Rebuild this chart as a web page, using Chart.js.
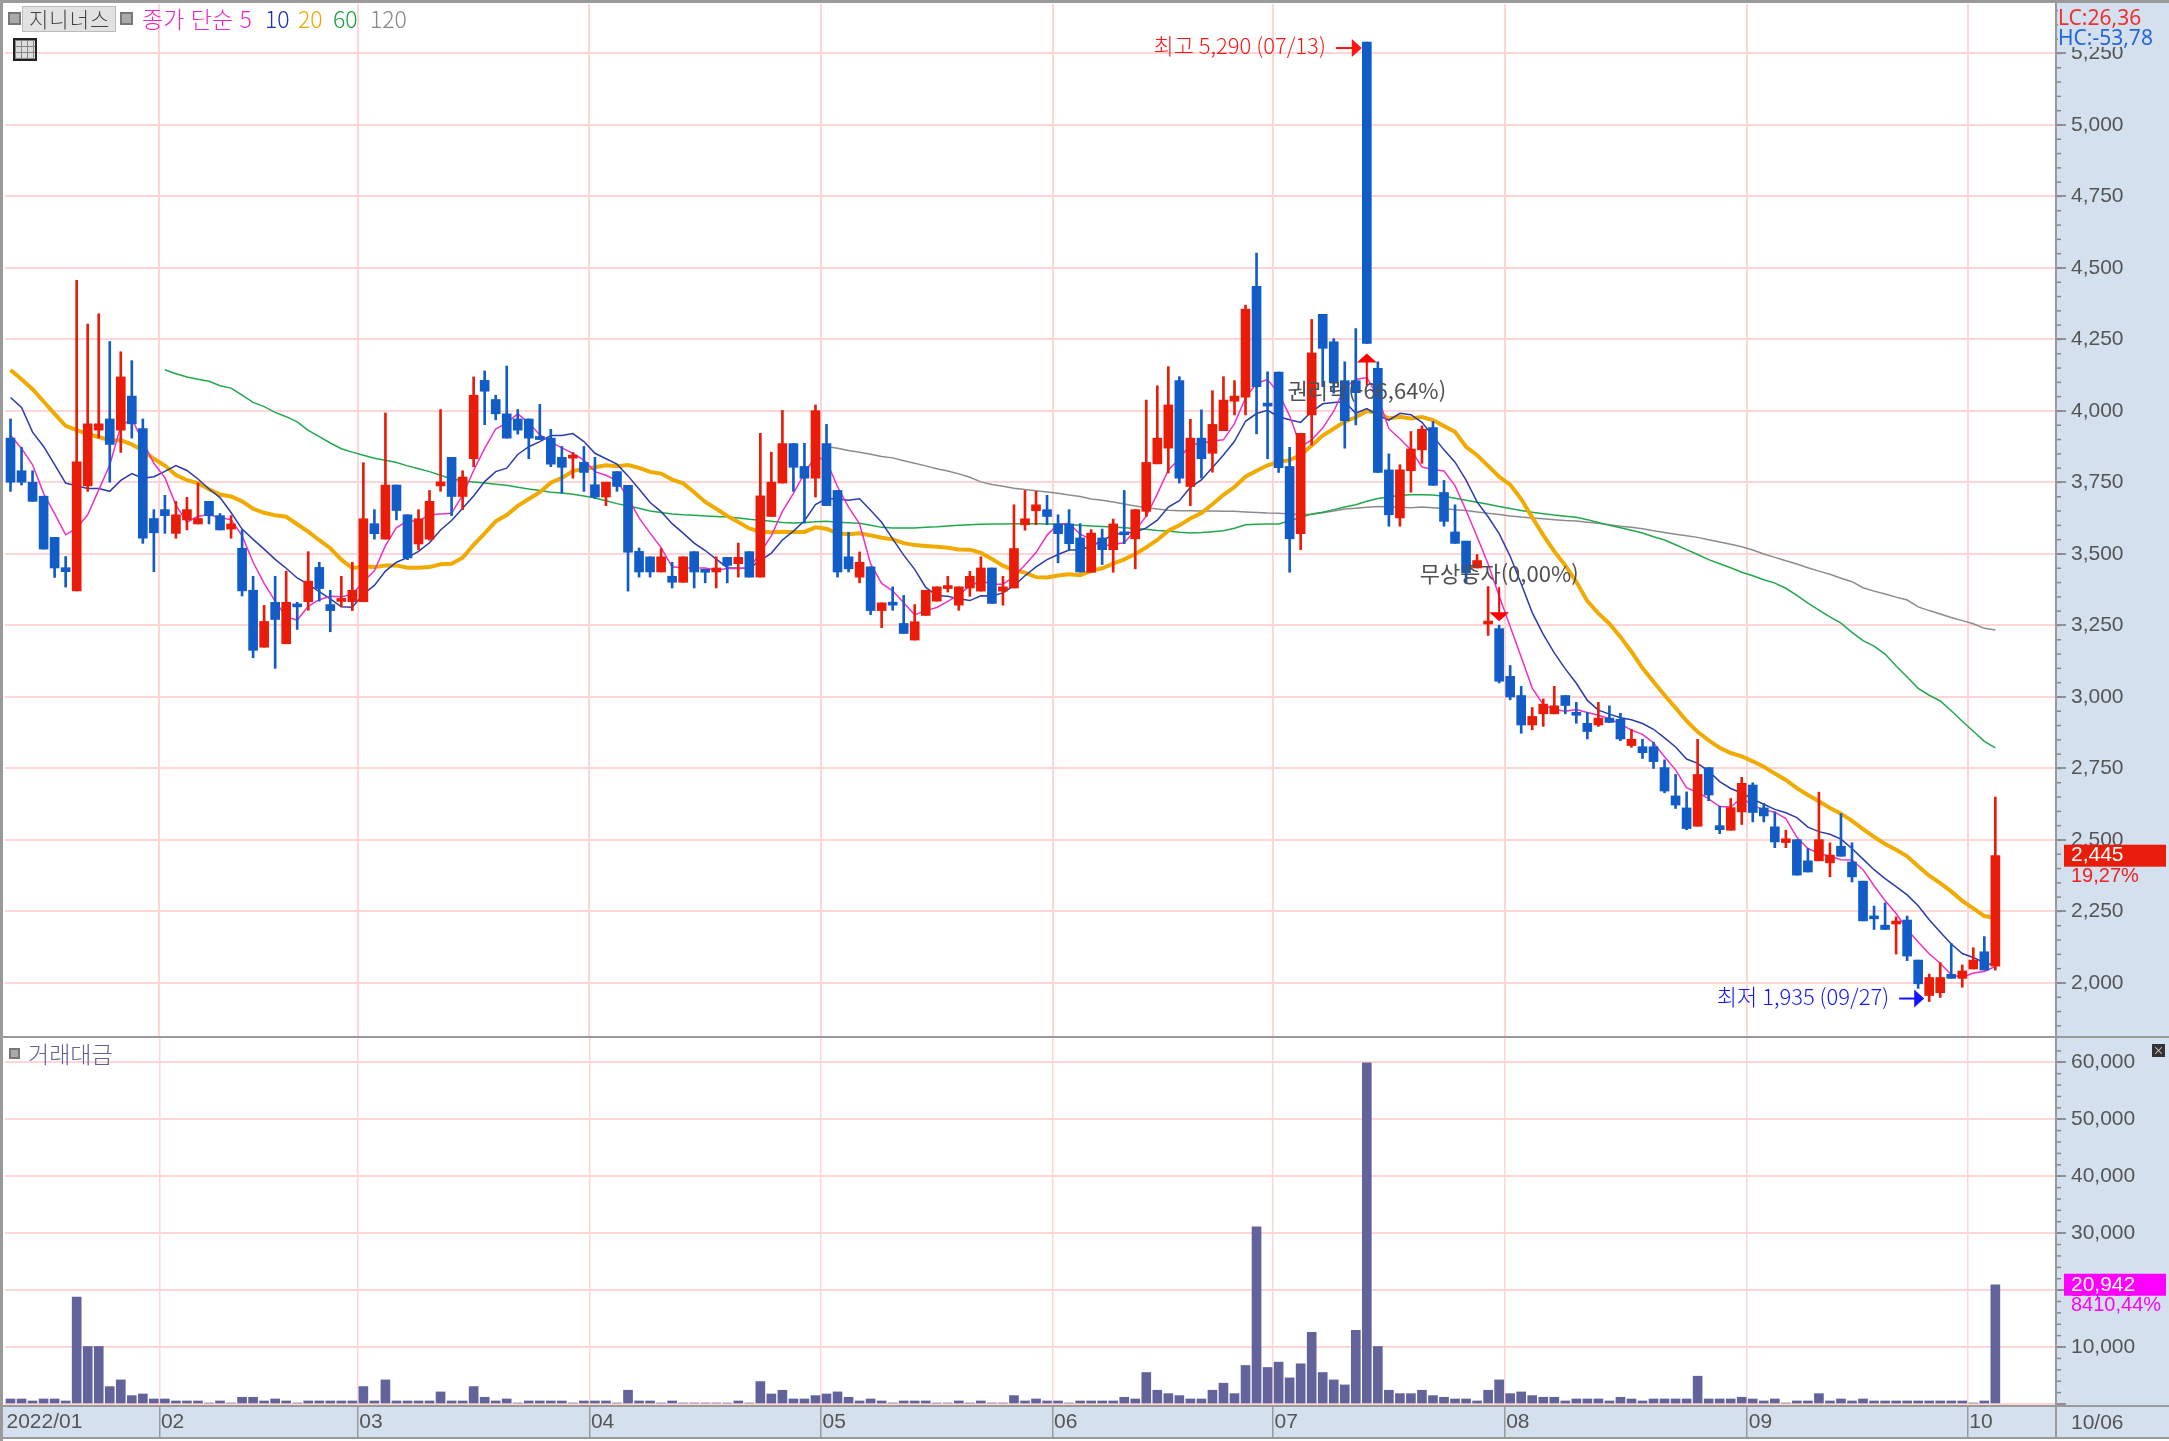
<!DOCTYPE html>
<html lang="ko">
<head>
<meta charset="utf-8">
<title>지니너스</title>
<script src="https://cdn.jsdelivr.net/npm/chart.js@4/dist/chart.umd.min.js"></script>
<style>
    html, body { margin: 0; padding: 0; background: #fff; }
    #page { position: relative; width: 2169px; height: 1441px; overflow: hidden; background: #fff; font-family: "Noto Sans CJK KR", sans-serif; }
    #page div, #page span { position: absolute; white-space: nowrap; }
    canvas { position: absolute; left: 0; }
    #priceChart { top: 0; }
    #valueChart { top: 1037px; }
    #axisCol { left: 2056px; top: 0; width: 113px; height: 1438px; background: #d5e0ef; }
    #axisRow { left: 0; top: 1405px; width: 2169px; height: 33px; background: #d5e0ef; }
    .line { background: #9a9a9a; }
    .dot { width: 9px; height: 9px; background: #aaa; border: 2px solid #777; }
    .head { top: 4px; font-size: 23px; line-height: 28px; font-weight: 300; }
    #lcBox { left: 2058px; top: 4px; width: 110px; height: 43px; background: #d5e0ef; }
    .side { left: 2058px; font-size: 21px; line-height: 24px; font-family: "Noto Sans", sans-serif; }
    #tableIcon {
        left: 13px; top: 38px; width: 20px; height: 19px; border: 2px solid #222;
        background:
            repeating-linear-gradient(90deg, #888 0 1px, transparent 1px 6px),
            repeating-linear-gradient(0deg, #888 0 1px, #ddd 1px 6px);
    }
</style>
</head>
<body>
<div id="page">
    <div id="axisCol"></div>
    <div id="axisRow"></div>
    <canvas id="priceChart" width="2169" height="1037"></canvas>
    <canvas id="valueChart" width="2169" height="401"></canvas>

    <div class="line" style="left:0;top:0;width:2169px;height:3px"></div>
    <div class="line" style="left:0;top:0;width:3px;height:1441px"></div>
    <div class="line" style="left:0;top:1036px;width:2169px;height:2px"></div>
    <div class="line" style="left:2055px;top:0;width:2px;height:1438px"></div>
    <div class="line" style="left:0;top:1405px;width:2169px;height:2px"></div>
    <div class="line" style="left:0;top:1437px;width:2169px;height:2px"></div>

    <div class="dot" style="left:8px;top:12px"></div>
    <div style="left:22px;top:6px;width:92px;height:24px;background:#e2e2e2;border:1px solid #bbb"></div>
    <div class="head" style="left:29px;color:#444;font-size:21px;letter-spacing:1px">지니너스</div>
    <div class="dot" style="left:120px;top:12px"></div>
    <div class="head" style="left:142px;color:#ee22cc">종가 단순 5</div>
    <div class="head" style="left:265px;color:#1c30b8">10</div>
    <div class="head" style="left:298px;color:#f0a800">20</div>
    <div class="head" style="left:333px;color:#18a040">60</div>
    <div class="head" style="left:370px;color:#888">120</div>
    <div id="tableIcon"></div>

    <div id="lcBox"></div>
    <div class="side" style="top:5px;color:#ee3030">LC:26,36</div>
    <div class="side" style="top:25px;color:#2468d8">HC:-53,78</div>

    <div style="left:9px;top:1048px;width:7px;height:7px;background:#aaa;border:2px solid #777"></div>
    <div class="head" style="left:28px;top:1039px;color:#5f6199">거래대금</div>
    <div style="left:2152px;top:1044px;width:13px;height:13px;background:#333;color:#ddd;font-size:11px;line-height:13px;text-align:center">×</div>
    <div style="left:2071px;top:1407px;font:21px/30px 'Liberation Sans',sans-serif;color:#555">10/06</div>
</div>

<script>
// 일봉 - 월별 거래일 수
const monthNames = ['2022/01', '02', '03', '04', '05', '06', '07', '08', '09', '10'];
const monthDays = [14, 18, 21, 21, 21, 20, 21, 22, 20, 3];
const blankDays = 5;

const opens = [
    3905,3791,3751,3702,3558,3452,3371,3738,3933,3972,
    3933,4052,3938,3624,3655,3572,3619,3605,3684,3634,
    3587,3520,3373,3174,3331,3186,3320,3333,3453,3323,
    3334,3333,3333,3606,3552,3741,3637,3535,3552,3738,
    3838,3701,3833,4107,4040,3990,3972,3972,3905,3905,
    3838,3835,3820,3742,3699,3788,3740,3509,3490,3437,
    3422,3401,3508,3439,3437,3488,3466,3508,3419,3631,
    3748,3886,3806,3765,3886,3722,3490,3419,3455,3302,
    3329,3257,3199,3285,3335,3379,3321,3381,3370,3451,
    3370,3381,3602,3651,3655,3605,3605,3556,3436,3556,
    3515,3573,3553,3649,3815,3870,4106,3736,3905,3852,
    3931,4034,4048,4436,4021,4136,3806,3571,3986,4338,
    4242,4106,4106,5290,4149,3794,3626,3791,3864,3942,
    3715,3577,3545,3451,3255,3239,3072,3005,2902,2941,
    2941,3005,2945,2908,2902,2926,2922,2830,2826,2826,
    2753,2654,2612,2548,2753,2550,2534,2598,2692,2612,
    2546,2491,2501,2427,2427,2420,2478,2423,2356,2231,
    2202,2206,2220,2080,1956,1966,2030,2016,2049,2109,2059
];
const highs = [
    3972,3873,3791,3702,3558,3491,4457,4304,4340,4243,
    4207,4176,3972,3655,3705,3684,3698,3748,3684,3641,
    3634,3584,3422,3320,3422,3440,3331,3508,3471,3373,
    3422,3471,3819,3655,3993,3741,3637,3655,3722,4005,
    3838,3791,4119,4140,4055,4157,4005,3972,4023,3936,
    3876,3855,3876,3838,3751,3788,3740,3521,3490,3519,
    3471,3490,3508,3439,3490,3488,3538,3508,3922,3856,
    4002,3886,3887,4021,3953,3722,3576,3507,3455,3329,
    3385,3355,3323,3373,3385,3422,3385,3439,3490,3451,
    3422,3672,3722,3719,3705,3637,3655,3606,3585,3587,
    3622,3722,3655,4038,4088,4155,4120,3971,4004,4071,
    4120,4106,4370,4552,4137,4136,3873,3922,4320,4338,
    4253,4172,4288,5290,4172,3850,3812,3928,3948,3963,
    3757,3672,3545,3498,3386,3251,3110,3037,2963,2993,
    3037,3005,2981,2946,2981,2969,2943,2887,2852,2842,
    2780,2729,2668,2852,2753,2618,2645,2719,2700,2628,
    2598,2534,2501,2470,2667,2490,2592,2490,2356,2269,
    2280,2231,2234,2080,2031,2071,2138,2063,2123,2162,2650
];
const lows = [
    3719,3741,3684,3517,3418,3384,3371,3719,3905,3751,
    3855,3905,3537,3438,3572,3555,3584,3605,3605,3584,
    3555,3353,3137,3174,3100,3186,3236,3303,3335,3228,
    3315,3302,3333,3552,3552,3619,3480,3515,3548,3719,
    3634,3655,3805,3952,3969,3905,3919,3833,3900,3805,
    3713,3765,3719,3695,3669,3719,3370,3419,3419,3437,
    3381,3401,3381,3399,3381,3399,3419,3419,3419,3631,
    3748,3719,3608,3699,3669,3419,3437,3399,3288,3242,
    3303,3222,3199,3285,3335,3367,3303,3352,3370,3327,
    3321,3381,3583,3602,3602,3469,3513,3436,3436,3463,
    3436,3536,3448,3631,3815,3783,3748,3669,3765,3786,
    3931,3986,3986,3920,3833,3785,3436,3515,3881,4085,
    4062,3870,3951,4236,3785,3597,3597,3716,3817,3740,
    3597,3537,3398,3451,3215,3049,2990,2873,2885,2897,
    2941,2941,2908,2853,2897,2911,2847,2824,2785,2750,
    2665,2610,2536,2548,2637,2522,2534,2554,2563,2563,
    2473,2473,2377,2388,2427,2371,2443,2353,2217,2187,
    2187,2101,2078,1981,1935,1949,2016,1985,2049,2045,2045
];
const closes = [
    3751,3751,3684,3517,3451,3438,3822,3955,3955,3883,
    4119,3955,3555,3574,3634,3637,3655,3624,3634,3584,
    3605,3371,3163,3264,3271,3331,3315,3405,3379,3302,
    3337,3373,3623,3571,3741,3652,3486,3623,3684,3752,
    3701,3769,4055,4069,3990,3905,3933,3905,3900,3814,
    3803,3838,3785,3699,3751,3736,3506,3437,3437,3490,
    3401,3490,3437,3436,3451,3460,3488,3419,3703,3751,
    3886,3803,3765,4001,3669,3437,3448,3471,3302,3329,
    3321,3222,3263,3373,3385,3385,3385,3422,3451,3327,
    3385,3519,3623,3672,3631,3571,3536,3437,3573,3515,
    3605,3567,3655,3820,3905,4021,3765,3905,3833,3953,
    4038,4052,4356,4085,4017,3802,3553,3922,4203,4219,
    4099,3966,4064,4236,3785,3637,3794,3867,3936,3740,
    3614,3537,3434,3477,3264,3055,3000,2902,2932,2975,
    2969,2970,2936,2879,2926,2911,2853,2852,2805,2774,
    2671,2622,2540,2729,2657,2536,2613,2698,2596,2584,
    2493,2504,2377,2388,2501,2447,2443,2371,2217,2224,
    2187,2214,2094,1997,2019,2019,2016,2042,2080,2045,2445
];

const ma5 = [
    3915,3869,3812,3712,3641,3567,3590,3637,3724,3811,
    3947,3973,3893,3817,3767,3671,3611,3632,3637,3627,
    3620,3564,3471,3397,3335,3280,3269,3317,3340,3352,
    3350,3359,3403,3441,3529,3592,3615,3615,3637,3640,
    3642,3706,3792,3869,3937,3958,3990,3958,3917,3891,
    3871,3852,3828,3788,3775,3757,3695,3626,3573,3522,
    3455,3451,3451,3451,3443,3449,3449,3451,3504,3564,
    3649,3712,3782,3842,3825,3735,3664,3605,3465,3397,
    3371,3329,3287,3302,3313,3334,3358,3388,3406,3394,
    3394,3421,3461,3505,3566,3603,3607,3569,3550,3526,
    3534,3539,3583,3632,3710,3794,3833,3883,3886,3895,
    3899,3956,4046,4097,4110,4062,3983,3875,3899,3940,
    3999,4082,4110,4117,4050,3938,3903,3864,3804,3795,
    3790,3739,3652,3560,3465,3353,3246,3140,3031,2973,
    2956,2950,2956,2946,2936,2924,2905,2884,2869,2839,
    2791,2745,2682,2667,2644,2617,2615,2647,2620,2606,
    2597,2575,2509,2470,2453,2443,2431,2430,2396,2340,
    2288,2243,2187,2143,2102,2069,2029,2019,2035,2040,2058
];
const ma10 = [
    4047,4012,3926,3876,3812,3748,3738,3729,3729,3719,
    3757,3781,3765,3770,3789,3809,3792,3762,3727,3697,
    3645,3587,3551,3517,3481,3450,3416,3394,3368,3343,
    3315,3314,3360,3390,3440,3471,3487,3509,3539,3584,
    3617,3660,3703,3753,3788,3800,3848,3875,3893,3914,
    3914,3921,3893,3852,3833,3814,3773,3727,3680,3648,
    3606,3573,3538,3512,3482,3452,3450,3451,3477,3503,
    3549,3580,3616,3673,3694,3692,3688,3693,3653,3611,
    3553,3496,3446,3383,3355,3352,3343,3337,3354,3353,
    3364,3389,3424,3455,3480,3498,3514,3515,3527,3546,
    3568,3573,3576,3591,3618,3664,3686,3733,3759,3802,
    3846,3894,3964,3991,4002,3980,3969,3960,3998,4025,
    4030,4032,3992,4008,3985,3968,3992,3987,3960,3912,
    3864,3821,3758,3682,3630,3571,3492,3396,3295,3219,
    3154,3098,3048,2988,2954,2940,2927,2920,2907,2887,
    2857,2825,2783,2768,2741,2704,2680,2664,2643,2625,
    2607,2595,2578,2545,2529,2520,2503,2470,2433,2396,
    2365,2337,2308,2270,2221,2178,2136,2103,2089,2071,2060
];
const ma20 = [
    4143,4111,4076,4033,3990,3948,3933,3919,3909,3898,
    3898,3883,3862,3833,3809,3776,3758,3748,3726,3708,
    3701,3684,3658,3644,3635,3630,3604,3578,3548,3520,
    3480,3450,3456,3454,3460,3460,3452,3452,3454,3464,
    3466,3487,3532,3572,3614,3636,3668,3692,3716,3749,
    3766,3790,3798,3803,3810,3807,3811,3801,3787,3781,
    3760,3747,3716,3682,3658,3633,3612,3589,3578,3576,
    3578,3577,3577,3593,3588,3572,3569,3572,3565,3557,
    3551,3538,3531,3528,3525,3522,3516,3515,3504,3482,
    3459,3443,3435,3419,3418,3425,3429,3426,3441,3450,
    3466,3481,3500,3523,3549,3581,3600,3624,3643,3674,
    3707,3734,3770,3791,3810,3822,3828,3846,3879,3914,
    3938,3963,3978,4000,3994,3974,3980,3974,3979,3968,
    3947,3927,3875,3845,3808,3770,3742,3692,3628,3566,
    3509,3460,3403,3335,3292,3256,3210,3158,3101,3053,
    3006,2962,2916,2878,2848,2822,2804,2792,2775,2756,
    2732,2710,2681,2657,2635,2612,2592,2567,2538,2511,
    2486,2466,2443,2408,2375,2349,2320,2287,2261,2234,2228
];
const ma60 = [
    null,null,null,null,null,null,null,null,null,null,
    null,null,null,null,4144,4130,4119,4111,4104,4088,
    4080,4055,4030,4015,3995,3980,3962,3932,3910,3888,
    3868,3856,3845,3835,3828,3820,3808,3798,3788,3775,
    3762,3756,3752,3748,3744,3740,3733,3727,3722,3716,
    3713,3709,3703,3696,3686,3676,3668,3660,3650,3645,
    3640,3637,3635,3633,3631,3629,3626,3621,3618,3614,
    3610,3608,3610,3613,3614,3611,3609,3607,3600,3593,
    3591,3591,3591,3593,3595,3598,3600,3602,3604,3605,
    3605,3606,3606,3606,3605,3605,3603,3600,3598,3596,
    3594,3592,3589,3586,3582,3580,3576,3573,3575,3578,
    3581,3590,3602,3604,3605,3605,3616,3628,3640,3646,
    3655,3664,3672,3684,3694,3699,3705,3707,3707,3706,
    3702,3695,3688,3681,3674,3666,3659,3652,3646,3641,
    3636,3632,3628,3620,3610,3600,3592,3583,3573,3560,
    3549,3532,3515,3498,3480,3466,3452,3436,3424,3410,
    3398,3380,3355,3328,3304,3280,3258,3226,3197,3178,
    3150,3108,3070,3030,3006,2986,2952,2915,2880,2845,2822
];
const ma120 = [
    null,null,null,null,null,null,null,null,null,null,
    null,null,null,null,null,null,null,null,null,null,
    null,null,null,null,null,null,null,null,null,null,
    null,null,null,null,null,null,null,null,null,null,
    null,null,null,null,null,null,null,null,null,null,
    null,null,null,null,null,null,null,null,null,null,
    null,null,null,null,null,null,null,null,null,null,
    null,null,null,null,3876,3870,3862,3856,3849,3841,
    3836,3826,3817,3808,3798,3790,3780,3768,3752,3743,
    3737,3730,3725,3721,3717,3712,3706,3701,3692,3688,
    3682,3675,3668,3662,3657,3653,3651,3651,3650,3650,
    3649,3649,3647,3645,3643,3642,3640,3638,3639,3644,
    3650,3657,3660,3663,3666,3665,3663,3662,3664,3662,
    3659,3655,3652,3647,3642,3638,3633,3629,3626,3623,
    3620,3617,3615,3611,3607,3602,3597,3593,3588,3581,
    3575,3569,3564,3558,3550,3542,3534,3525,3514,3500,
    3488,3476,3465,3452,3440,3429,3415,3403,3382,3370,
    3360,3349,3339,3315,3302,3290,3278,3267,3256,3240,3234
];

const tradeValues = [
    880,880,530,880,880,530,18760,10100,10100,3050,
    4230,1470,1760,880,880,530,530,530,180,530,
    180,1180,1180,530,880,530,180,530,530,530,
    530,530,3060,530,4230,530,530,530,530,2120,
    530,530,3060,1180,530,880,180,530,530,530,
    530,180,530,530,530,180,2410,530,530,180,
    530,180,180,180,180,180,530,180,3940,1760,
    2410,880,880,1470,1760,2120,1180,530,880,530,
    180,530,530,530,180,180,530,180,530,180,
    180,1470,530,880,530,530,180,530,530,530,
    530,1180,880,5530,2410,1820,1470,880,880,2410,
    3650,1820,6760,31100,6410,7350,4590,7060,12590,5530,
    4230,3350,12940,59900,10100,2410,1820,1820,2410,1470,
    1180,880,880,530,2410,4230,1820,2120,1470,1180,
    1180,530,880,880,880,530,1180,880,530,880,
    880,880,880,4880,880,880,880,1180,880,530,
    880,180,530,530,1820,530,880,530,880,530,
    530,530,530,530,530,530,530,530,180,530,20942
];

const priceTicks = [2000, 2250, 2500, 2750, 3000, 3250, 3500, 3750, 4000, 4250, 4500, 4750, 5000, 5250];
const valueTicks = [0, 10000, 20000, 30000, 40000, 50000, 60000];

const lastPrice = 2445;
const priceChange = '19,27%';
const lastValue = 20942;
const valueChange = '8410,44%';
const highLabel = '최고 5,290 (07/13)';
const lowLabel = '최저 1,935 (09/27)';
const highIndex = 123;
const highPrice = 5290;
const lowIndex = 174;
const lowPrice = 1935;
const rightsLabel = '권리락(-66,64%)';
const rightsIndex = 123;
const rightsPrice = 4236;
const bonusLabel = '무상증자(0,00%)';
const bonusIndex = 135;
const bonusPrice = 3251;

// x축 라벨
const categories = [];
const monthStarts = new Set();
monthDays.forEach((days, m) => {
    if (m > 0) monthStarts.add(categories.length);
    for (let d = 0; d < days; d++) categories.push(d === 0 ? monthNames[m] : '');
});
for (let d = 0; d < blankDays; d++) categories.push('');

const RED = '#e81c08';
const BLUE = '#125cc8';
const PINK_GRID = '#ffd6d6';
const candleColors = closes.map((c, i) => (c >= opens[i] ? RED : BLUE));
const tickFont = { family: "'Liberation Sans', sans-serif", size: 21 };

const monthGrid = ctx => (monthStarts.has(ctx.index) ? PINK_GRID : 'transparent');
const monthTick = ctx => (monthStarts.has(ctx.index) ? '#9a9a9a' : 'transparent');

function maLine(data, color, width, order) {
    return { type: 'line', data, borderColor: color, borderWidth: width, pointRadius: 0, tension: 0, spanGaps: false, order };
}

// y축 라벨 때문에 차트 영역이 줄어들지 않게
function fitRightAxis(scale) {
    scale.width = 113;
    scale.paddingTop = 0;
    scale.paddingBottom = 0;
}

// 축 눈금 작은 선
const minorTicks = {
    id: 'minorTicks',
    afterDraw(chart, args, opts) {
        const { ctx } = chart;
        const y = chart.scales.y;
        ctx.save();
        ctx.strokeStyle = '#888';
        ctx.lineWidth = 1.5;
        for (let v = opts.from; v <= opts.to; v += opts.step) {
            const py = y.getPixelForValue(v);
            ctx.beginPath();
            ctx.moveTo(y.left, py);
            ctx.lineTo(y.left + 5, py);
            ctx.stroke();
        }
        ctx.restore();
    }
};

function currentTag(ctx, y, value, text, fill, textColor) {
    const py = y.getPixelForValue(value);
    ctx.fillStyle = fill;
    ctx.fillRect(2064, py - 11, 102, 22);
    ctx.font = "21px 'Liberation Sans', sans-serif";
    ctx.textBaseline = 'middle';
    ctx.textAlign = 'left';
    ctx.fillStyle = '#fff';
    ctx.fillText(value.toLocaleString('en-US'), 2071, py);
    ctx.font = "20px 'Liberation Sans', sans-serif";
    ctx.fillStyle = textColor;
    ctx.fillText(text, 2071, py + 21);
}

const priceNotes = {
    id: 'priceNotes',
    afterDraw(chart) {
        const { ctx } = chart;
        const x = chart.scales.x;
        const y = chart.scales.y;
        const tri = (a, b, c, d, e, f) => {
            ctx.beginPath();
            ctx.moveTo(a, b);
            ctx.lineTo(c, d);
            ctx.lineTo(e, f);
            ctx.closePath();
            ctx.fill();
        };
        ctx.save();
        ctx.font = "300 22px 'Noto Sans CJK KR', sans-serif";
        ctx.textBaseline = 'middle';

        // 최고
        const hx = x.getPixelForValue(highIndex) - 5;
        const hy = y.getPixelForValue(highPrice) + 6;
        ctx.fillStyle = '#ff1414';
        ctx.strokeStyle = '#ff1414';
        ctx.lineWidth = 2;
        ctx.textAlign = 'right';
        ctx.fillText(highLabel, hx - 36, hy - 2);
        ctx.beginPath();
        ctx.moveTo(hx - 26, hy);
        ctx.lineTo(hx - 8, hy);
        ctx.stroke();
        tri(hx, hy, hx - 10, hy - 9, hx - 10, hy + 9);

        // 최저
        const lx = x.getPixelForValue(lowIndex) - 5;
        const ly = y.getPixelForValue(lowPrice) - 3;
        ctx.fillStyle = '#1414ff';
        ctx.strokeStyle = '#1414ff';
        ctx.fillText(lowLabel, lx - 35, ly - 2);
        ctx.beginPath();
        ctx.moveTo(lx - 25, ly);
        ctx.lineTo(lx - 8, ly);
        ctx.stroke();
        tri(lx, ly, lx - 10, ly - 9, lx - 10, ly + 9);

        // 권리락 화살표
        const rx = x.getPixelForValue(rightsIndex);
        const ry = y.getPixelForValue(rightsPrice) + 10;
        ctx.fillStyle = '#ff0000';
        ctx.strokeStyle = '#ff0000';
        ctx.beginPath();
        ctx.moveTo(rx, ry + 8);
        ctx.lineTo(rx, ry + 32);
        ctx.stroke();
        tri(rx, ry, rx - 10, ry + 9, rx + 10, ry + 9);

        // 무상증자 화살표
        const bx = x.getPixelForValue(bonusIndex);
        const by = y.getPixelForValue(bonusPrice) - 4;
        ctx.beginPath();
        ctx.moveTo(bx, by - 34);
        ctx.lineTo(bx, by - 8);
        ctx.stroke();
        tri(bx, by, bx - 10, by - 9, bx + 10, by - 9);

        ctx.font = "22px 'Noto Sans CJK KR', sans-serif";
        ctx.fillStyle = '#505050';
        ctx.textAlign = 'center';
        ctx.fillText(rightsLabel, rx, ry + 37);
        ctx.fillText(bonusLabel, bx, by - 48);

        currentTag(ctx, y, lastPrice, priceChange, RED, '#ee2020');
        ctx.restore();
    }
};

const valueNotes = {
    id: 'valueNotes',
    afterDraw(chart) {
        const { ctx } = chart;
        ctx.save();
        currentTag(ctx, chart.scales.y, lastValue, valueChange, '#ff00ff', '#ff00ff');
        ctx.restore();
    }
};

const priceChart = new Chart(document.getElementById('priceChart').getContext('2d'), {
    type: 'bar',
    data: {
        labels: categories,
        datasets: [
            {
                data: opens.map((o, i) => [o, closes[i]]),
                backgroundColor: candleColors,
                barThickness: 9,
                minBarLength: 3,
                grouped: false,
                order: 0
            },
            {
                data: lows.map((l, i) => [l, highs[i]]),
                backgroundColor: candleColors,
                barThickness: 2,
                grouped: false,
                order: 1
            },
            maLine(ma5, '#ee30c8', 1.5, 2),
            maLine(ma10, '#2a3cac', 1.5, 3),
            maLine(ma20, '#f0aa00', 4, 4),
            maLine(ma60, '#22a84c', 1.5, 5),
            maLine(ma120, '#8c8c8c', 1.5, 6)
        ]
    },
    options: {
        responsive: false,
        animation: false,
        devicePixelRatio: 1,
        layout: { padding: { left: 5, top: 4, right: 0, bottom: 0 } },
        plugins: {
            legend: { display: false },
            tooltip: { enabled: false },
            minorTicks: { from: 1850, to: 5400, step: 50 }
        },
        scales: {
            x: {
                offset: true,
                border: { display: false },
                grid: { offset: true, color: monthGrid, lineWidth: 2, drawTicks: false },
                ticks: { display: false, autoSkip: false },
                afterFit: scale => { scale.height = 0; }
            },
            y: {
                position: 'right',
                min: 1811,
                max: 5423,
                border: { display: false },
                grid: { color: PINK_GRID, lineWidth: 2, tickColor: '#777', tickLength: 10, tickWidth: 1.5 },
                ticks: {
                    font: tickFont,
                    color: '#555',
                    padding: 5,
                    callback: v => v.toLocaleString('en-US')
                },
                afterBuildTicks: scale => { scale.ticks = priceTicks.map(value => ({ value })); },
                afterFit: fitRightAxis
            }
        }
    },
    plugins: [minorTicks, priceNotes]
});

const valueChart = new Chart(document.getElementById('valueChart').getContext('2d'), {
    type: 'bar',
    data: {
        labels: categories,
        datasets: [{
            data: tradeValues,
            backgroundColor: '#62639a',
            barThickness: 9,
            minBarLength: 1
        }]
    },
    options: {
        responsive: false,
        animation: false,
        devicePixelRatio: 1,
        layout: { padding: { left: 5, top: 1, right: 0, bottom: 0 } },
        plugins: {
            legend: { display: false },
            tooltip: { enabled: false },
            minorTicks: { from: 2000, to: 62000, step: 2000 }
        },
        scales: {
            x: {
                offset: true,
                border: { display: false },
                grid: { offset: true, color: monthGrid, lineWidth: 1.5, tickColor: monthTick, tickLength: 33, tickWidth: 1.5 },
                ticks: {
                    font: tickFont,
                    color: '#555',
                    align: 'start',
                    labelOffset: -4,
                    padding: -28,
                    autoSkip: false,
                    maxRotation: 0
                },
                afterFit: scale => {
                    scale.height = 33;
                    scale.paddingLeft = 0;
                    scale.paddingRight = 0;
                }
            },
            y: {
                position: 'right',
                min: -176,
                max: 64267,
                border: { display: false },
                grid: { color: PINK_GRID, lineWidth: 2, tickColor: '#777', tickLength: 10, tickWidth: 1.5 },
                ticks: {
                    font: tickFont,
                    color: '#555',
                    padding: 5,
                    callback: v => (v === 0 ? '' : v.toLocaleString('en-US'))
                },
                afterBuildTicks: scale => { scale.ticks = valueTicks.map(value => ({ value })); },
                afterFit: fitRightAxis
            }
        }
    },
    plugins: [minorTicks, valueNotes]
});
</script>
</body>
</html>
